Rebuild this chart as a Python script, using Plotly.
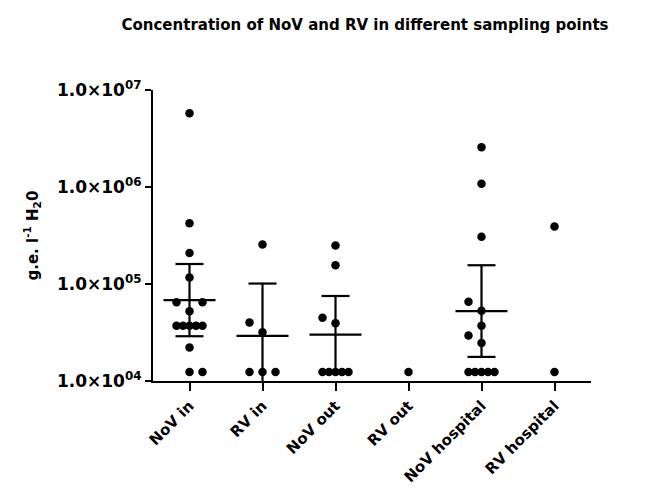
import math
import plotly.graph_objects as go

# ---- data ----
categories = ["NoV in", "RV in", "NoV out", "RV out", "NoV hospital", "RV hospital"]
nov_in = [5.75e6, 4.24e5, 2.09e5, 1.17e5, 6.5e4, 6.5e4, 5.25e4,
          3.72e4, 3.72e4, 3.72e4, 3.72e4, 3.72e4, 2.22e4, 1.24e4, 1.24e4]
rv_in = [2.55e5, 4.0e4, 3.18e4, 1.24e4, 1.24e4, 1.24e4]
nov_out = [2.5e5, 1.56e5, 4.5e4, 3.95e4, 1.24e4, 1.24e4, 1.24e4, 1.24e4, 1.24e4]
rv_out = [1.24e4]
nov_hospital = [2.57e6, 1.08e6, 3.07e5, 6.56e4, 5.3e4, 3.72e4, 2.95e4, 2.47e4,
                1.24e4, 1.24e4, 1.24e4, 1.24e4, 1.24e4]
rv_hospital = [3.92e5, 1.24e4]
groups = [nov_in, rv_in, nov_out, rv_out, nov_hospital, rv_hospital]

y_tick_vals = [1e4, 1e5, 1e6, 1e7]
y_tick_text = ["1.0×10<sup>04</sup>", "1.0×10<sup>05</sup>",
               "1.0×10<sup>06</sup>", "1.0×10<sup>07</sup>"]

# two-sided 95% Student t critical values by degrees of freedom
T975 = {1: 12.706, 2: 4.303, 3: 3.182, 4: 2.776, 5: 2.571, 6: 2.447, 7: 2.365,
        8: 2.306, 9: 2.262, 10: 2.228, 11: 2.201, 12: 2.179, 13: 2.160,
        14: 2.145, 15: 2.131, 16: 2.120, 17: 2.110, 18: 2.101, 19: 2.093, 20: 2.086}

# ---- layout geometry ----
W, H = 645, 490
ML, MR, MT, MB = 145, 62, 82, 108
plot_w = W - ML - MR
plot_h = H - MT - MB
x_range = [-0.5, len(categories) - 0.5]
y_range = [4, 7]
px_per_cat = plot_w / (x_range[1] - x_range[0])
px_per_dec = plot_h / (y_range[1] - y_range[0])

STEP = 13.0      # px between neighbouring dots
HY = 11.0        # vertical collision distance, px
HX = 13.0        # horizontal collision distance, px


def swarm(values):
    """Simple beeswarm: returns x offsets (category units) for values."""
    uniq = sorted(set(values))
    placed = []  # (dx_px, y_px)
    offs = {}
    for v in uniq:
        n = values.count(v)
        ypx = math.log10(v) * px_per_dec
        if n == 1:
            cands = [0.0, -STEP, STEP, -2 * STEP, 2 * STEP]
        else:
            s = STEP if n <= 3 else 2 * STEP / (n - 1)
            cands = [0.0]
            k = 1
            while len(cands) < 4 * n + 4:
                cands += [k * s, -k * s]
                k += 1
        res = []
        for _ in range(n):
            for c in cands:
                if c in res:
                    continue
                if any(abs(ypx - py) < HY and abs(c - px) < HX - 1e-6 for px, py in placed):
                    continue
                res.append(c)
                break
        for c in res:
            placed.append((c, ypx))
        offs[v] = res
    out = []
    used = {v: 0 for v in uniq}
    for v in values:
        out.append(offs[v][used[v]] / px_per_cat)
        used[v] += 1
    return out


fig = go.Figure()

# mean and 95% CI (geometric)
lx, ly = [], []
half_mean = 26 / px_per_cat
half_cap = 14 / px_per_cat
for i, g in enumerate(groups):
    n = len(g)
    if n < 3:
        continue
    logs = [math.log10(v) for v in g]
    m = sum(logs) / n
    sd = math.sqrt(sum((a - m) ** 2 for a in logs) / (n - 1))
    h = T975[n - 1] * sd / math.sqrt(n)
    lo, mid, hi = 10 ** (m - h), 10 ** m, 10 ** (m + h)
    lx += [i - half_mean, i + half_mean, None, i, i, None,
           i - half_cap, i + half_cap, None, i - half_cap, i + half_cap, None]
    ly += [mid, mid, None, lo, hi, None, hi, hi, None, lo, lo, None]

fig.add_trace(go.Scatter(x=lx, y=ly, mode="lines",
                         line=dict(color="black", width=2.2),
                         hoverinfo="skip", showlegend=False))

for i, g in enumerate(groups):
    offs = swarm(g)
    fig.add_trace(go.Scatter(
        x=[i + o for o in offs], y=g, mode="markers",
        marker=dict(color="black", size=8.5, line=dict(width=0)),
        cliponaxis=False, showlegend=False, name=categories[i]))

font_b = dict(family="DejaVu Sans", color="black", weight="bold")

fig.update_layout(
    width=W, height=H, autosize=False,
    margin=dict(l=ML, r=MR, t=MT, b=MB),
    paper_bgcolor="white", plot_bgcolor="white",
    title=dict(text="Concentration of NoV and RV in different sampling points",
               font=dict(size=15, **font_b),
               x=(357 - ML) / plot_w, xref="paper", xanchor="center",
               y=1 - 17 / H, yref="container", yanchor="middle"),
    xaxis=dict(range=x_range, tickvals=list(range(len(categories))),
               ticktext=categories, tickangle=-45,
               tickfont=dict(size=15, **font_b),
               showline=True, linecolor="black", linewidth=2.2,
               ticks="outside", ticklen=8, tickwidth=2.2, tickcolor="black",
               showgrid=False, zeroline=False),
    yaxis=dict(type="log", range=y_range, tickvals=y_tick_vals,
               ticktext=y_tick_text, tickfont=dict(size=17, **font_b),
               showline=True, linecolor="black", linewidth=2.2,
               ticks="outside", ticklen=6, tickwidth=2.2, tickcolor="black",
               showgrid=False, zeroline=False),
    annotations=[dict(text="g.e. l<sup>-1</sup> H<sub>2</sub>0",
                      textangle=-90, xref="paper", yref="paper",
                      x=(24 - ML) / plot_w, y=0.5, xanchor="center",
                      yanchor="middle", showarrow=False,
                      font=dict(size=15, **font_b))],
)

fig.write_html("out.html")
